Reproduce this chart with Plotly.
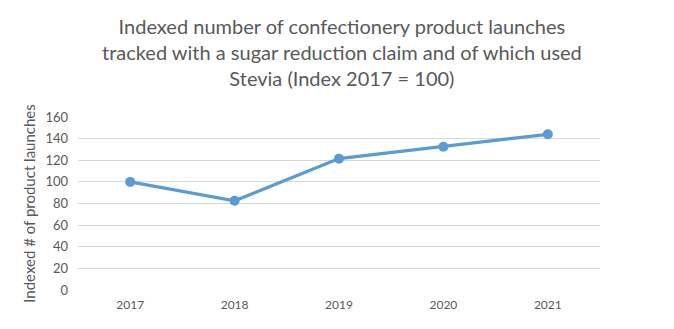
import plotly.graph_objects as go

years = ["2017", "2018", "2019", "2020", "2021"]
index_values = [100, 82.5, 121.5, 132.5, 144]
y_ticks = [0, 20, 40, 60, 80, 100, 120, 140, 160]

title_text = ("Indexed number of confectionery product launches<br>"
              "tracked with a sugar reduction claim and of which used<br>"
              "Stevia (Index 2017 = 100)")
y_title = "Indexed # of product launches"

FONT = "Lato, Carlito, 'Open Sans', sans-serif"
GREY = "#595959"

fig = go.Figure()
fig.add_trace(go.Scatter(
    x=years, y=index_values, mode="lines+markers",
    line=dict(color="#5B9BD5", width=3.2),
    marker=dict(color="#5B9BD5", size=10),
    showlegend=False, hoverinfo="x+y",
))

fig.add_annotation(
    text=title_text, xref="paper", yref="paper", x=0.505, y=(290 - 12) / 173,
    xanchor="center", yanchor="top", showarrow=False, align="center",
    font=dict(family=FONT, size=20, color=GREY),
)

fig.update_layout(
    width=674, height=329,
    margin=dict(l=78, r=74, t=117, b=39),
    paper_bgcolor="white", plot_bgcolor="white",
    font=dict(family=FONT, color=GREY),
    xaxis=dict(type="category", range=[-0.5, 4.5], showgrid=False, showline=False,
               zeroline=False, ticks="", tickfont=dict(size=12, color=GREY),
               ticklabelstandoff=6),
    yaxis=dict(range=[0, 160], tickvals=y_ticks, showgrid=True, gridcolor="#D9D9D9",
               gridwidth=1, zeroline=False, showline=False, ticks="",
               tickfont=dict(size=13, color=GREY), ticklabelstandoff=9,
               title=dict(text=y_title, font=dict(size=15, color=GREY), standoff=6)),
)

fig.write_html("out.html")
